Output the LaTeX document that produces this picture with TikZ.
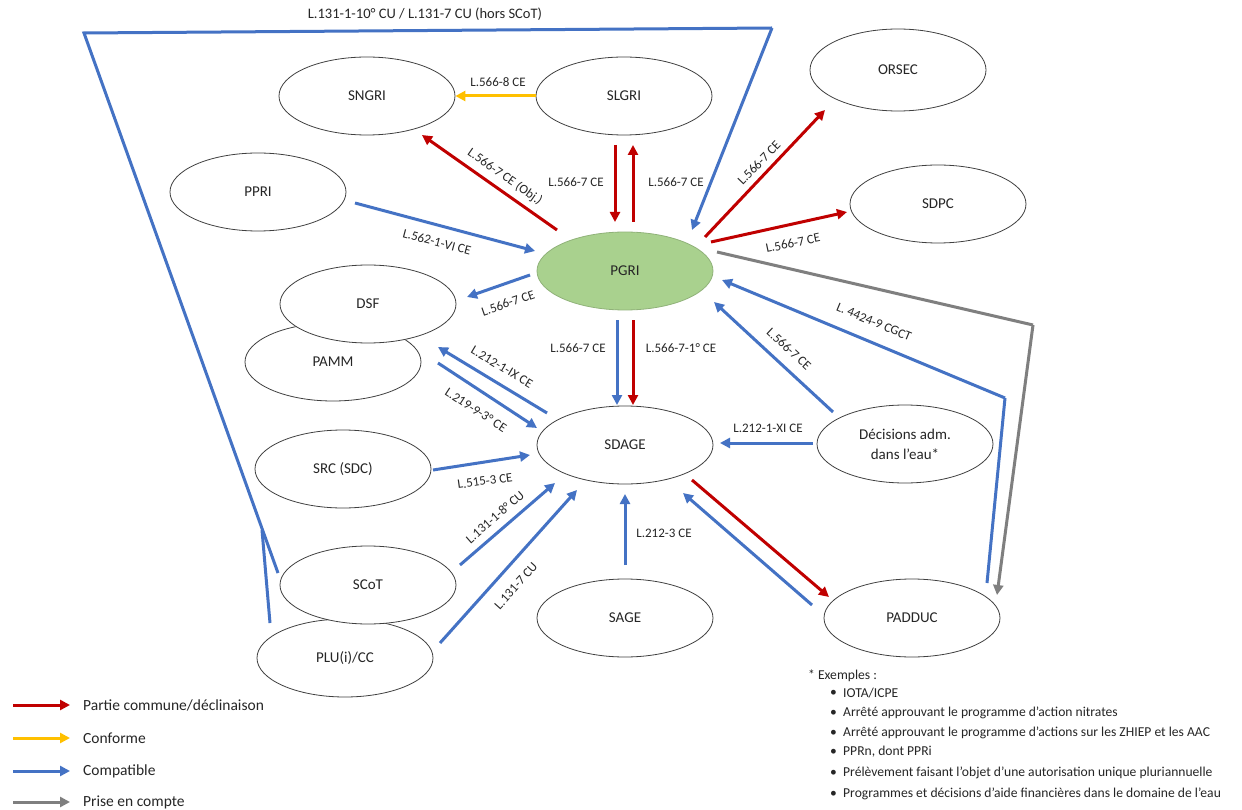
\documentclass[tikz,border=0pt]{standalone}
\usepackage{fontspec}
\setmainfont{Carlito}
\usetikzlibrary{shapes.geometric,arrows.meta}
\definecolor{cred}{RGB}{192,0,0}
\definecolor{cyel}{RGB}{255,192,0}
\definecolor{cblue}{RGB}{68,114,196}
\definecolor{cgrey}{RGB}{127,127,127}
\definecolor{cgreen}{RGB}{169,209,142}
\begin{document}
\begin{tikzpicture}[x=1pt,y=-1pt,
  ell/.style={ellipse, draw=black!75, line width=0.8pt, minimum width=176pt, minimum height=78pt, inner sep=0pt, font=\fontsize{15}{18}\selectfont, align=center, fill=white, text=black!85},
  arr/.style={line width=3pt, -{Triangle[length=10pt,width=10pt]}},
  seg/.style={line width=3pt},
  lbl/.style={font=\fontsize{13}{15}\selectfont, inner sep=1pt, text=black!85},
  leg/.style={font=\fontsize{15.5}{17}\selectfont, anchor=west, inner sep=0pt, text=black!85},
  fn/.style={font=\fontsize{13.6}{15}\selectfont, anchor=west, inner sep=0pt, text=black!85}]
\fill[white] (0,0) rectangle (1242,810);
\useasboundingbox (0,0) rectangle (1242,810);

% nodes
\node[ell] (sngri) at (367,96) {SNGRI};
\node[ell] (slgri) at (624,96) {SLGRI};
\node[ell] (ppri) at (258,192) {PPRI};
\node[ell, fill=cgreen, draw=cgreen!85!black] (pgri) at (625,271) {PGRI};
\node[ell] (pamm) at (333,362) {PAMM};
\node[ell] (dsf) at (368,304) {DSF};
\node[ell] (src) at (343,469) {SRC (SDC)};
\node[ell] (sdage) at (625,445) {SDAGE};
\node[ell] (plu) at (345,658) {PLU(i)/CC};
\node[ell] (scot) at (368,585) {SCoT};
\node[ell] (sage) at (625,618) {SAGE};
\node[ell, minimum height=82pt] (orsec) at (898,70) {ORSEC};
\node[ell] (sdpc) at (938,204) {SDPC};
\node[ell, font=\fontsize{15}{20}\selectfont] (dec) at (905,444) {Décisions adm.\\dans l'eau*};
\node[ell] (padduc) at (912,618) {PADDUC};

% connectors
\draw[arr, cyel] (slgri.180) -- (sngri.0);
\node[lbl] (l1) at (498,82) {L.566-8 CE};

\draw[arr, cred] ([shift={(-68,-41)}]pgri.center) -- ([shift={(55,39)}]sngri.center);
\node[lbl, rotate=-35] (l2) at (505,177) {L.566-7 CE (Obj.)};

\draw[arr, cred] ([shift={(-9,49)}]slgri.center) -- ([shift={(-10,-49)}]pgri.center);
\node[lbl] (l3) at (576,182) {L.566-7 CE};
\draw[arr, cred] ([shift={(8,-49)}]pgri.center) -- ([shift={(9,49)}]slgri.center);
\node[lbl] (l4) at (676,182) {L.566-7 CE};

% top blue frame
\coordinate (tl) at (84,33);
\coordinate (tr) at (772,28);
\coordinate (jn) at (262,530);
\draw[seg, cblue, line join=miter] ([shift={(-90,-12)}]scot.center) -- (tl) -- (tr);
\draw[arr, cblue] (tr) -- ([shift={(67,-41)}]pgri.center);
\draw[seg, cblue] ([shift={(-75,-35)}]plu.center) -- (jn);
\node[lbl, font=\fontsize{14.5}{16}\selectfont] (l5) at (425,14) {L.131-1-10° CU / L.131-7 CU (hors SCoT)};

\draw[arr, cblue] ([shift={(97,11)}]ppri.center) -- ([shift={(-90,-20)}]pgri.center);
\node[lbl, rotate=-15] (l6) at (437,242) {L.562-1-VI CE};

\draw[arr, cblue] ([shift={(-95,4)}]pgri.center) -- ([shift={(99,-7)}]dsf.center);
\node[lbl, rotate=19] (l7) at (508,303) {L.566-7 CE};

\draw[arr, cblue] ([shift={(-78,-32)}]sdage.center) -- ([shift={(105,-15)}]pamm.center);
\node[lbl, rotate=-31] (l8) at (502,367) {L.212-1-IX CE};
\draw[arr, cblue] ([shift={(105,1)}]pamm.center) -- ([shift={(-88,-17)}]sdage.center);
\node[lbl, rotate=-33] (l9) at (476,410) {L.219-9-3° CE};

\draw[arr, cblue] ([shift={(-8,49)}]pgri.center) -- ([shift={(-8,-40)}]sdage.center);
\node[lbl] (l10) at (578,348) {L.566-7 CE};
\draw[arr, cred] ([shift={(8,49)}]pgri.center) -- ([shift={(8,-40)}]sdage.center);
\node[lbl] (l11) at (681,348) {L.566-7-1° CE};

\draw[arr, cblue] ([shift={(90,1)}]src.center) -- ([shift={(-95,10)}]sdage.center);
\node[lbl, rotate=8] (l12) at (485,481) {L.515-3 CE};

\draw[arr, cblue] ([shift={(92,-20)}]scot.center) -- ([shift={(-70,38)}]sdage.center);
\node[lbl, rotate=41] (l13) at (495,517) {L.131-1-8° CU};

\draw[arr, cblue] ([shift={(95,-15)}]plu.center) -- ([shift={(-48,45)}]sdage.center);
\node[lbl, rotate=48] (l14) at (516,586) {L.131-7 CU};

\draw[arr, cblue] ([shift={(0,-53)}]sage.center) -- ([shift={(0,49)}]sdage.center);
\node[lbl] (l15) at (664,533) {L.212-3 CE};

\draw[arr, cred] ([shift={(67,35)}]sdage.center) -- ([shift={(-83,-21)}]padduc.center);
\draw[arr, cblue] ([shift={(-100,-13)}]padduc.center) -- ([shift={(58,48)}]sdage.center);

\draw[arr, cblue] ([shift={(-92,-1)}]dec.center) -- ([shift={(95,-2)}]sdage.center);
\node[lbl] (l18) at (768,428) {L.212-1-XI CE};

\draw[arr, cblue] ([shift={(-72,-32)}]dec.center) -- ([shift={(89,31)}]pgri.center);
\node[lbl, rotate=-43] (l19) at (789,349) {L.566-7 CE};

\coordinate (pc) at (1005,398);
\draw[seg, cblue, line join=miter] ([shift={(75,-35)}]padduc.center) -- (pc);
\draw[arr, cblue] (pc) -- ([shift={(97,9)}]pgri.center);
\node[lbl, rotate=-22.6] (l20) at (874,322) {L. 4424-9 CGCT};

\coordinate (gc) at (1033,325);
\draw[seg, cgrey, line join=miter] ([shift={(92,-19)}]pgri.center) -- (gc);
\draw[arr, cgrey] (gc) -- ([shift={(85,-23)}]padduc.center);

\draw[arr, cred] ([shift={(80,-34)}]pgri.center) -- ([shift={(-73,40)}]orsec.center);
\node[lbl, rotate=46] (l22) at (759,163) {L.566-7 CE};

\draw[arr, cred] ([shift={(86,-29)}]pgri.center) -- ([shift={(-91,8)}]sdpc.center);
\node[lbl, rotate=12] (l23) at (793,243) {L.566-7 CE};

% legend
\coordinate (g1a) at (13,705); \coordinate (g1b) at (70,705);
\coordinate (g2a) at (13,738); \coordinate (g2b) at (70,738);
\coordinate (g3a) at (13,771); \coordinate (g3b) at (70,771);
\coordinate (g4a) at (13,802); \coordinate (g4b) at (70,802);
\draw[arr, cred] (g1a) -- (g1b);
\draw[arr, cyel] (g2a) -- (g2b);
\draw[arr, cblue] (g3a) -- (g3b);
\draw[arr, cgrey] (g4a) -- (g4b);
\node[leg] (t1) at (83,705) {Partie commune/déclinaison};
\node[leg] (t2) at (83,738) {Conforme};
\node[leg] (t3) at (83,771) {Compatible};
\node[leg] (t4) at (83,802) {Prise en compte};

% footnote
\node[fn] (f0) at (808,676) {* Exemples :};
\foreach \yy/\tt [count=\i] in {693/{IOTA/ICPE}, 713/{Arrêté approuvant le programme d'action nitrates}, 733/{Arrêté approuvant le programme d'actions sur les ZHIEP et les AAC}, 752/{PPRn, dont PPRi}, 773/{Prélèvement faisant l'objet d'une autorisation unique pluriannuelle}, 794/{Programmes et décisions d'aide financières dans le domaine de l'eau}}{
  \node[fn] (fb\i) at (830,\yy) {•};
  \node[fn] (ft\i) at (843,\yy) {\tt};
}
\end{tikzpicture}
\end{document}
